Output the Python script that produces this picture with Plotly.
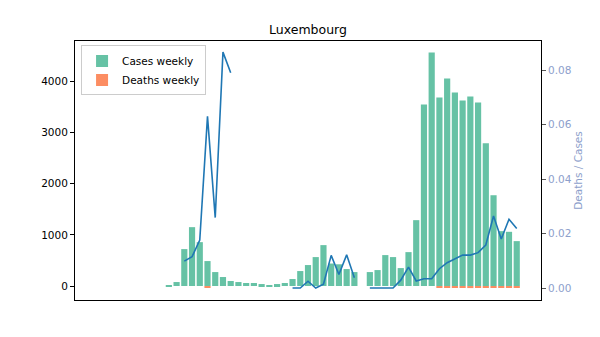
import plotly.graph_objects as go

weeks = list(range(55))

cases_weekly = [0, 0, 0, 0, 0, 0, 0, 0, 0, 20,
                78, 722, 1151, 858, 488, 273, 176, 98, 78, 59,
                59, 39, 20, 39, 59, 137, 293, 410, 566, 800,
                440, 425, 332, 273, None, 273, 312, 605, 566, 351,
                663, 1288, 3551, 4565, 3687, 4058, 3785, 3629, 3707, 3590,
                2790, 1775, 1073, 1060, 878]

deaths_weekly = [0, 0, 0, 0, 0, 0, 0, 0, 0, 0,
                 0, 0, 0, 0, -25, 0, 0, 0, 0, 0,
                 0, 0, 0, 0, 0, 0, 0, 0, 0, 0,
                 0, 0, 0, 0, None, 0, 0, 0, 0, 0,
                 0, 0, 0, 0, -30, -35, -35, -38, -40, -38,
                 -35, -30, -20, -20, -20]

deaths_per_cases = [None, None, None, None, None, None, None, None, None, None,
                    None, 0.0099, 0.0115, 0.0176, 0.0631, 0.0259, 0.0867, 0.0791, None, None,
                    None, None, None, None, None, 0.0, 0.0, 0.0025, 0.0, 0.0014,
                    0.012, 0.005, 0.0122, 0.0038, None, 0.0, 0.0, 0.0, 0.0, 0.0029,
                    0.0077, 0.0026, 0.0034, 0.0034, 0.0071, 0.0093, 0.0108, 0.0121, 0.0121, 0.013,
                    0.0158, 0.0265, 0.018, 0.0253, 0.0219]

left_ticks = [0, 1000, 2000, 3000, 4000]
right_ticks = [0.0, 0.02, 0.04, 0.06, 0.08]
right_tick_text = ["0.00", "0.02", "0.04", "0.06", "0.08"]

FONT = "DejaVu Sans"
RIGHT_COLOR = "#8da0cb"

fig = go.Figure()
fig.add_trace(go.Bar(x=weeks, y=cases_weekly, name="Cases weekly",
                     marker=dict(color="#66c2a5", line=dict(width=0)), width=0.8))
fig.add_trace(go.Bar(x=weeks, y=deaths_weekly, name="Deaths weekly",
                     marker=dict(color="#fc8d62", line=dict(width=0)), width=0.8))
fig.add_trace(go.Scatter(x=weeks, y=deaths_per_cases, mode="lines", yaxis="y2",
                         line=dict(color="#1f77b4", width=1.6), showlegend=False,
                         connectgaps=False))

fig.update_layout(
    width=600, height=337,
    margin=dict(l=75, r=59, t=40.5, b=37),
    paper_bgcolor="white", plot_bgcolor="white",
    barmode="overlay",
    font=dict(family=FONT, size=10.5, color="black"),
    title=dict(text="Luxembourg", x=0.5, xref="paper", y=1 - 30 / 337, yanchor="middle",
               font=dict(family=FONT, size=12.5, color="black")),
    xaxis=dict(range=[-3.14, 57.14], showticklabels=False, ticks="", showgrid=False,
               zeroline=False, showline=True, linecolor="black", linewidth=1, mirror=True),
    yaxis=dict(range=[-273, 4790], tickvals=left_ticks, ticks="outside", ticklen=4,
               tickcolor="black", showgrid=False, zeroline=False, showline=True,
               linecolor="black", linewidth=1, mirror=True,
               tickfont=dict(family=FONT, size=10.5, color="black")),
    yaxis2=dict(range=[-0.0044, 0.0908], overlaying="y", side="right",
                tickvals=right_ticks, ticktext=right_tick_text, ticks="outside", ticklen=4,
                tickcolor="#555555", showgrid=False, zeroline=False, showline=False,
                tickfont=dict(family=FONT, size=10.5, color=RIGHT_COLOR),
                title=dict(text="Deaths / Cases", standoff=3,
                           font=dict(family=FONT, size=10.5, color=RIGHT_COLOR))),
    legend=dict(x=0.013, y=0.983, xanchor="left", yanchor="top",
                bgcolor="white", bordercolor="#cccccc", borderwidth=1,
                font=dict(family=FONT, size=10.5, color="black"),
                itemwidth=30, tracegroupgap=0),
    showlegend=True,
)

fig.write_html("out.html")
